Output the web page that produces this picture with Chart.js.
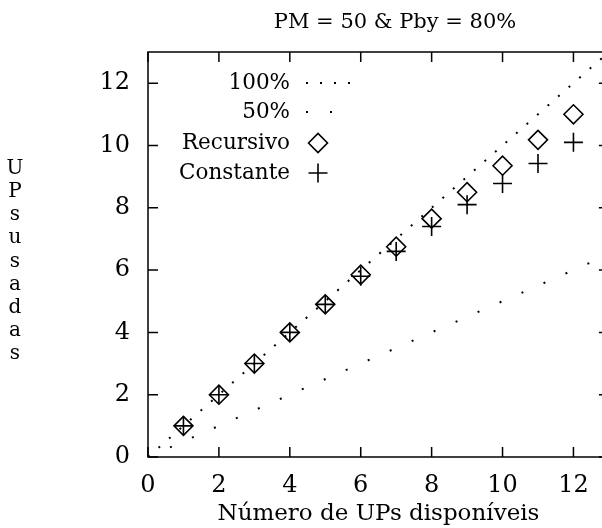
<!DOCTYPE html>
<html>
<head>
<meta charset="utf-8">
<script src="https://cdn.jsdelivr.net/npm/chart.js@4/dist/chart.umd.min.js"></script>
<style>
  html, body { margin: 0; padding: 0; background: #fff; overflow: hidden; }
  #wrap { width: 620px; height: 528px; }
</style>
</head>
<body>
<div id="wrap"><canvas id="chart" width="620" height="528"></canvas></div>
<script>
// values
const upsDisponiveis = [1, 2, 3, 4, 5, 6, 7, 8, 9, 10, 11, 12];
const recursivo = [1, 2, 3, 4, 4.9, 5.85, 6.75, 7.65, 8.5, 9.35, 10.18, 11.0];
const constante = [1, 2, 3, 4, 4.9, 5.8, 6.6, 7.4, 8.1, 8.78, 9.42, 10.1];
const refX = [0, 13];
const ref100 = [0, 13];
const ref50 = [0, 6.5];
const tickVals = [0, 2, 4, 6, 8, 10, 12];
const titleText = 'PM = 50 & Pby = 80%';
const xTitle = 'Número de UPs disponíveis';
const yTitle = 'UPs usadas';

const serif = '"DejaVu Serif", "Liberation Serif", serif';

const pts = (xs, ys) => xs.map((x, i) => ({x: x, y: ys[i]}));

// frame, inward ticks on all sides, title, stacked y title, gnuplot-like key
const decor = {
  id: 'decor',
  afterDraw(chart) {
    const ctx = chart.ctx;
    const a = chart.chartArea;
    const xs = chart.scales.x, ys = chart.scales.y;
    ctx.save();
    ctx.strokeStyle = '#000';
    ctx.lineWidth = 1.5;
    ctx.setLineDash([]);
    ctx.strokeRect(a.left, a.top, a.right - a.left, a.bottom - a.top);
    ctx.beginPath();
    tickVals.forEach(v => {
      const px = xs.getPixelForValue(v);
      ctx.moveTo(px, a.bottom); ctx.lineTo(px, a.bottom - 10);
      ctx.moveTo(px, a.top); ctx.lineTo(px, a.top + 10);
      const py = ys.getPixelForValue(v);
      ctx.moveTo(a.left, py); ctx.lineTo(a.left + 10, py);
      ctx.moveTo(a.right, py); ctx.lineTo(a.right - 10, py);
    });
    ctx.stroke();

    ctx.fillStyle = '#000';
    ctx.font = '21px ' + serif;
    ctx.textAlign = 'center';
    ctx.textBaseline = 'alphabetic';
    ctx.fillText(titleText, 395, 28);

    // y label: one letter per line, centred on the axis
    ctx.font = '20px ' + serif;
    const letters = yTitle.replace(/ /g, '').split('');
    const step = 23.2;
    const mid = (a.top + a.bottom) / 2;
    let y = mid - (letters.length - 1) * step / 2 + 12;
    letters.forEach(ch => {
      ctx.fillText(ch, 15, y);
      y += step;
    });

    // key
    ctx.font = '21.5px ' + serif;
    ctx.textAlign = 'right';
    ctx.textBaseline = 'middle';
    const keyRows = [83, 112, 143, 173];
    chart.data.datasets.forEach((ds, i) => {
      const ky = keyRows[i];
      const meta = chart.getDatasetMeta(i);
      ctx.fillText(ds.label, 290, ky);
      ctx.save();
      if (ds.showLine) {
        const o = meta.dataset.options;
        ctx.lineWidth = o.borderWidth;
        ctx.setLineDash(o.borderDash);
        ctx.beginPath();
        ctx.moveTo(306, ky); ctx.lineTo(352, ky);
        ctx.stroke();
      } else {
        const o = meta.data[0].options;
        ctx.lineWidth = o.borderWidth;
        ctx.setLineDash([]);
        ctx.fillStyle = 'rgba(0,0,0,0)';
        Chart.helpers.drawPoint(ctx, {pointStyle: o.pointStyle, radius: o.radius, rotation: 0, borderWidth: o.borderWidth}, 318, ky);
      }
      ctx.restore();
    });
    ctx.restore();
  }
};

new Chart(document.getElementById('chart'), {
  type: 'scatter',
  data: {
    datasets: [
      {
        label: '100%', data: pts(refX, ref100), showLine: true,
        borderColor: '#000', borderWidth: 2, borderDash: [2, 12],
        pointRadius: 0, fill: false
      },
      {
        label: '50%', data: pts(refX, ref50), showLine: true,
        borderColor: '#000', borderWidth: 2, borderDash: [2, 22],
        pointRadius: 0, fill: false
      },
      {
        label: 'Recursivo', data: pts(upsDisponiveis, recursivo), showLine: false,
        pointStyle: 'rectRot', pointRadius: 9.5, pointBorderWidth: 1.6,
        pointBackgroundColor: 'rgba(0,0,0,0)', pointBorderColor: '#000'
      },
      {
        label: 'Constante', data: pts(upsDisponiveis, constante), showLine: false,
        pointStyle: 'cross', pointRadius: 9.5, pointBorderWidth: 1.6,
        pointBackgroundColor: 'rgba(0,0,0,0)', pointBorderColor: '#000'
      }
    ]
  },
  options: {
    responsive: false,
    animation: false,
    devicePixelRatio: 1,
    layout: { padding: { top: 52, right: 10.5, left: 0, bottom: 0 } },
    plugins: { legend: { display: false }, title: { display: false }, tooltip: { enabled: false } },
    scales: {
      x: {
        type: 'linear', min: 0, max: 13,
        grid: { display: false, drawTicks: false },
        border: { display: false },
        ticks: { stepSize: 2, includeBounds: false, padding: 14, color: '#000', font: { family: serif, size: 24 } },
        title: { display: true, text: xTitle, color: '#000', font: { family: serif, size: 23 }, padding: { top: -4, bottom: 0 } },
        afterFit(s) { s.height = 71; }
      },
      y: {
        type: 'linear', min: 0, max: 13,
        grid: { display: false, drawTicks: false },
        border: { display: false },
        ticks: { stepSize: 2, includeBounds: false, padding: 18, color: '#000', font: { family: serif, size: 24 } },
        afterFit(s) { s.width = 148; }
      }
    }
  },
  plugins: [decor]
});
</script>
</body>
</html>
